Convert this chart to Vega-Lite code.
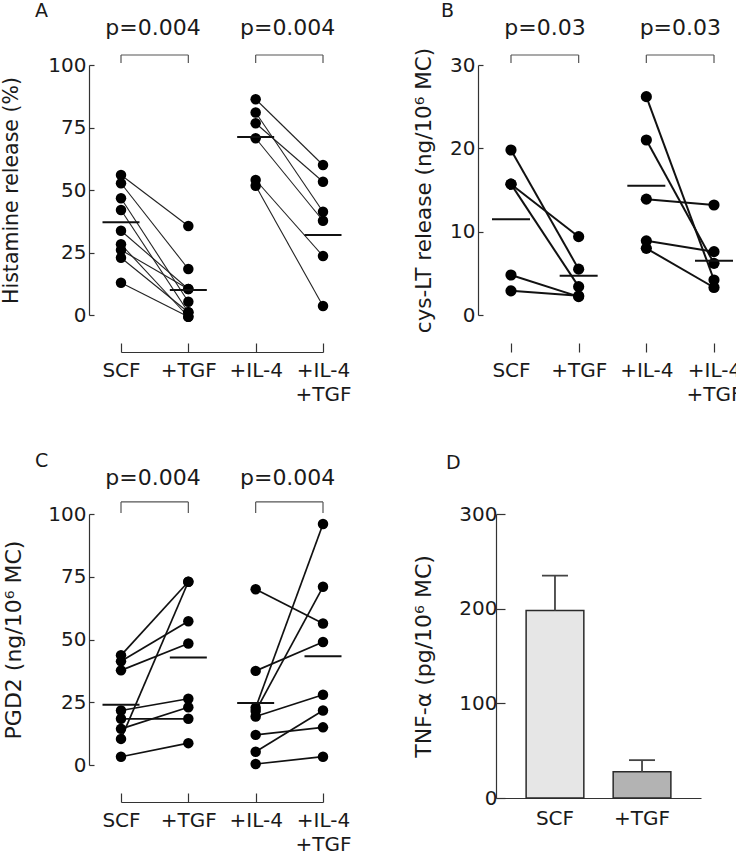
{
  "$schema": "https://vega.github.io/schema/vega-lite/v6.json",
  "padding": {"left": 1, "top": 1, "right": 5, "bottom": 5},
  "config": {
    "font": "DejaVu Sans",
    "view": {"stroke": null},
    "axis": {
      "grid": false,
      "labelFont": "DejaVu Sans",
      "labelFontSize": 20,
      "labelColor": "#1a1a1a",
      "titleFont": "DejaVu Sans",
      "titleFontSize": 21,
      "titleFontWeight": "normal",
      "titleColor": "#1a1a1a",
      "domainColor": "#333333",
      "tickColor": "#333333",
      "domainWidth": 1.2,
      "tickWidth": 1.2,
      "labelOverlap": false
    },
    "title": {"fontSize": 19, "fontWeight": "normal", "anchor": "start", "frame": "group", "color": "#1a1a1a"}
  },
  "datasets": {
    "pts": [
      {"panel": "A", "donor": "a1", "cond": "SCF", "value": 56},
      {"panel": "A", "donor": "a1", "cond": "+TGF", "value": 35.6},
      {"panel": "A", "donor": "a2", "cond": "SCF", "value": 52.7},
      {"panel": "A", "donor": "a2", "cond": "+TGF", "value": 18.4},
      {"panel": "A", "donor": "a3", "cond": "SCF", "value": 46.7},
      {"panel": "A", "donor": "a3", "cond": "+TGF", "value": 5.3},
      {"panel": "A", "donor": "a4", "cond": "SCF", "value": 42},
      {"panel": "A", "donor": "a4", "cond": "+TGF", "value": 1.1},
      {"panel": "A", "donor": "a5", "cond": "SCF", "value": 33.7},
      {"panel": "A", "donor": "a5", "cond": "+TGF", "value": 10.4},
      {"panel": "A", "donor": "a6", "cond": "SCF", "value": 28.3},
      {"panel": "A", "donor": "a6", "cond": "+TGF", "value": -0.7},
      {"panel": "A", "donor": "a7", "cond": "SCF", "value": 26},
      {"panel": "A", "donor": "a7", "cond": "+TGF", "value": 10.4},
      {"panel": "A", "donor": "a8", "cond": "SCF", "value": 22.9},
      {"panel": "A", "donor": "a8", "cond": "+TGF", "value": 1.1},
      {"panel": "A", "donor": "a9", "cond": "SCF", "value": 12.9},
      {"panel": "A", "donor": "a9", "cond": "+TGF", "value": -0.7},
      {"panel": "A", "donor": "a10", "cond": "+IL-4", "value": 86.3},
      {"panel": "A", "donor": "a10", "cond": "+IL-4 +TGF", "value": 60},
      {"panel": "A", "donor": "a11", "cond": "+IL-4", "value": 81},
      {"panel": "A", "donor": "a11", "cond": "+IL-4 +TGF", "value": 41.3},
      {"panel": "A", "donor": "a12", "cond": "+IL-4", "value": 76.7},
      {"panel": "A", "donor": "a12", "cond": "+IL-4 +TGF", "value": 53.3},
      {"panel": "A", "donor": "a13", "cond": "+IL-4", "value": 70.7},
      {"panel": "A", "donor": "a13", "cond": "+IL-4 +TGF", "value": 37.7},
      {"panel": "A", "donor": "a14", "cond": "+IL-4", "value": 54},
      {"panel": "A", "donor": "a14", "cond": "+IL-4 +TGF", "value": 23.6},
      {"panel": "A", "donor": "a15", "cond": "+IL-4", "value": 51.7},
      {"panel": "A", "donor": "a15", "cond": "+IL-4 +TGF", "value": 3.6},
      {"panel": "B", "donor": "b1", "cond": "SCF", "value": 19.8},
      {"panel": "B", "donor": "b1", "cond": "+TGF", "value": 5.5},
      {"panel": "B", "donor": "b2", "cond": "SCF", "value": 15.7},
      {"panel": "B", "donor": "b2", "cond": "+TGF", "value": 9.4},
      {"panel": "B", "donor": "b3", "cond": "SCF", "value": 15.7},
      {"panel": "B", "donor": "b3", "cond": "+TGF", "value": 3.4},
      {"panel": "B", "donor": "b4", "cond": "SCF", "value": 4.8},
      {"panel": "B", "donor": "b4", "cond": "+TGF", "value": 2.2},
      {"panel": "B", "donor": "b5", "cond": "SCF", "value": 2.9},
      {"panel": "B", "donor": "b5", "cond": "+TGF", "value": 2.3},
      {"panel": "B", "donor": "b6", "cond": "+IL-4", "value": 26.2},
      {"panel": "B", "donor": "b6", "cond": "+IL-4 +TGF", "value": 4.2},
      {"panel": "B", "donor": "b7", "cond": "+IL-4", "value": 21},
      {"panel": "B", "donor": "b7", "cond": "+IL-4 +TGF", "value": 6.2},
      {"panel": "B", "donor": "b8", "cond": "+IL-4", "value": 13.9},
      {"panel": "B", "donor": "b8", "cond": "+IL-4 +TGF", "value": 13.2},
      {"panel": "B", "donor": "b9", "cond": "+IL-4", "value": 8.9},
      {"panel": "B", "donor": "b9", "cond": "+IL-4 +TGF", "value": 7.6},
      {"panel": "B", "donor": "b10", "cond": "+IL-4", "value": 8},
      {"panel": "B", "donor": "b10", "cond": "+IL-4 +TGF", "value": 3.3},
      {"panel": "C", "donor": "c1", "cond": "SCF", "value": 43.7},
      {"panel": "C", "donor": "c1", "cond": "+TGF", "value": 73},
      {"panel": "C", "donor": "c2", "cond": "SCF", "value": 41.3},
      {"panel": "C", "donor": "c2", "cond": "+TGF", "value": 57.3},
      {"panel": "C", "donor": "c3", "cond": "SCF", "value": 37.7},
      {"panel": "C", "donor": "c3", "cond": "+TGF", "value": 48.4},
      {"panel": "C", "donor": "c4", "cond": "SCF", "value": 10.4},
      {"panel": "C", "donor": "c4", "cond": "+TGF", "value": 73},
      {"panel": "C", "donor": "c5", "cond": "SCF", "value": 21.7},
      {"panel": "C", "donor": "c5", "cond": "+TGF", "value": 26.4},
      {"panel": "C", "donor": "c6", "cond": "SCF", "value": 18.4},
      {"panel": "C", "donor": "c6", "cond": "+TGF", "value": 18.4},
      {"panel": "C", "donor": "c7", "cond": "SCF", "value": 14.4},
      {"panel": "C", "donor": "c7", "cond": "+TGF", "value": 23},
      {"panel": "C", "donor": "c8", "cond": "SCF", "value": 3.3},
      {"panel": "C", "donor": "c8", "cond": "+TGF", "value": 8.7},
      {"panel": "C", "donor": "c9", "cond": "+IL-4", "value": 70},
      {"panel": "C", "donor": "c9", "cond": "+IL-4 +TGF", "value": 56.4},
      {"panel": "C", "donor": "c10", "cond": "+IL-4", "value": 37.5},
      {"panel": "C", "donor": "c10", "cond": "+IL-4 +TGF", "value": 49},
      {"panel": "C", "donor": "c11", "cond": "+IL-4", "value": 22.8},
      {"panel": "C", "donor": "c11", "cond": "+IL-4 +TGF", "value": 96},
      {"panel": "C", "donor": "c12", "cond": "+IL-4", "value": 21.5},
      {"panel": "C", "donor": "c12", "cond": "+IL-4 +TGF", "value": 71},
      {"panel": "C", "donor": "c13", "cond": "+IL-4", "value": 19.3},
      {"panel": "C", "donor": "c13", "cond": "+IL-4 +TGF", "value": 28},
      {"panel": "C", "donor": "c14", "cond": "+IL-4", "value": 12},
      {"panel": "C", "donor": "c14", "cond": "+IL-4 +TGF", "value": 15},
      {"panel": "C", "donor": "c15", "cond": "+IL-4", "value": 5.3},
      {"panel": "C", "donor": "c15", "cond": "+IL-4 +TGF", "value": 21.7},
      {"panel": "C", "donor": "c16", "cond": "+IL-4", "value": 0.4},
      {"panel": "C", "donor": "c16", "cond": "+IL-4 +TGF", "value": 3.3}
    ],
    "means": [
      {"panel": "A", "cond": "SCF", "mean": 37.1},
      {"panel": "A", "cond": "+TGF", "mean": 10},
      {"panel": "A", "cond": "+IL-4", "mean": 71.2},
      {"panel": "A", "cond": "+IL-4 +TGF", "mean": 32},
      {"panel": "B", "cond": "SCF", "mean": 11.5},
      {"panel": "B", "cond": "+TGF", "mean": 4.7},
      {"panel": "B", "cond": "+IL-4", "mean": 15.5},
      {"panel": "B", "cond": "+IL-4 +TGF", "mean": 6.5},
      {"panel": "C", "cond": "SCF", "mean": 24},
      {"panel": "C", "cond": "+TGF", "mean": 42.8},
      {"panel": "C", "cond": "+IL-4", "mean": 24.7},
      {"panel": "C", "cond": "+IL-4 +TGF", "mean": 43.3}
    ],
    "brackets": [
      {"panel": "A", "g1": "SCF", "g2": "+TGF", "p": "p=0.004"},
      {"panel": "A", "g1": "+IL-4", "g2": "+IL-4 +TGF", "p": "p=0.004"},
      {"panel": "B", "g1": "SCF", "g2": "+TGF", "p": "p=0.03"},
      {"panel": "B", "g1": "+IL-4", "g2": "+IL-4 +TGF", "p": "p=0.03"},
      {"panel": "C", "g1": "SCF", "g2": "+TGF", "p": "p=0.004"},
      {"panel": "C", "g1": "+IL-4", "g2": "+IL-4 +TGF", "p": "p=0.004"}
    ],
    "tnf": [
      {"cond": "SCF", "mean": 198, "upper": 235},
      {"cond": "+TGF", "mean": 27.6, "upper": 40}
    ]
  },
  "concat": [
    {
      "width": 202,
      "height": 250,
      "title": {"text": "A", "dx": -86, "offset": -4},
      "layer": [
        {
          "data": {"name": "pts"},
          "transform": [{"filter": "datum.panel == 'A'"}],
          "mark": {"type": "line", "color": "#222222", "strokeWidth": 1.1},
          "encoding": {
            "x": {"field": "cond", "type": "nominal", "title": null,
              "scale": {"type": "point", "domain": ["SCF", "+TGF", "+IL-4", "+IL-4 +TGF"], "padding": 0},
              "axis": {"offset": 37, "tickSize": -9, "labelPadding": 17, "labelAngle": 0, "labelExpr": "split(datum.label, ' ')", "labelLineHeight": 24}},
            "y": {"field": "value", "type": "quantitative", "title": "Histamine release (%)",
              "scale": {"domain": [0, 100], "nice": false},
              "axis": {"values": [0, 25, 50, 75, 100], "offset": 32, "tickSize": -5, "labelPadding": 8, "titlePadding": 26, "titleFontSize": 20.5}},
            "detail": {"field": "donor"}
          }
        },
        {
          "data": {"name": "pts"},
          "transform": [{"filter": "datum.panel == 'A'"}],
          "mark": {"type": "circle", "size": 110, "color": "#000000", "opacity": 1},
          "encoding": {
            "x": {"field": "cond", "type": "nominal", "title": null},
            "y": {"field": "value", "type": "quantitative"}
          }
        },
        {
          "data": {"name": "means"},
          "transform": [{"filter": "datum.panel == 'A'"}],
          "mark": {"type": "tick", "orient": "horizontal", "size": 37, "thickness": 2, "color": "#111111", "opacity": 1},
          "encoding": {
            "x": {"field": "cond", "type": "nominal", "title": null},
            "y": {"field": "mean", "type": "quantitative"}
          }
        },
        {
          "data": {"name": "brackets"},
          "transform": [{"filter": "datum.panel == 'A'"}],
          "layer": [
            {"mark": {"type": "rule", "color": "#555555", "strokeWidth": 1.2},
             "encoding": {"x": {"field": "g1", "type": "nominal", "title": null}, "x2": {"field": "g2"}, "y": {"datum": 104}}},
            {"mark": {"type": "rule", "color": "#555555", "strokeWidth": 1.2},
             "encoding": {"x": {"field": "g1", "type": "nominal", "title": null}, "y": {"datum": 100.8}, "y2": {"datum": 104}}},
            {"mark": {"type": "rule", "color": "#555555", "strokeWidth": 1.2},
             "encoding": {"x": {"field": "g2", "type": "nominal", "title": null}, "y": {"datum": 100.8}, "y2": {"datum": 104}}},
            {"mark": {"type": "text", "dx": 32, "baseline": "alphabetic", "align": "center", "fontSize": 22, "color": "#1a1a1a"},
             "encoding": {"x": {"field": "g1", "type": "nominal", "title": null}, "y": {"datum": 112}, "text": {"field": "p"}}}
          ]
        }
      ]
    },
    {
      "width": 218,
      "height": 250,
      "title": {"text": "B", "dx": -55, "offset": -4},
      "layer": [
        {
          "data": {"name": "pts"},
          "transform": [{"filter": "datum.panel == 'B'"}],
          "mark": {"type": "line", "color": "#111111", "strokeWidth": 2},
          "encoding": {
            "x": {"field": "cond", "type": "nominal", "title": null,
              "scale": {"type": "point", "domain": ["SCF", "+TGF", "+IL-4", "+IL-4 +TGF"], "padding": 0.1108, "align": 1},
              "axis": {"offset": 37, "domain": false, "tickSize": -9, "labelPadding": 17, "labelAngle": 0, "labelExpr": "split(datum.label, ' ')", "labelLineHeight": 24}},
            "y": {"field": "value", "type": "quantitative", "title": "cys-LT release (ng/10⁶ MC)",
              "scale": {"domain": [0, 30], "nice": false},
              "axis": {"values": [0, 10, 20, 30], "offset": 18, "tickSize": -5, "labelPadding": 8, "titlePadding": 14, "titleFontSize": 21.5}},
            "detail": {"field": "donor"}
          }
        },
        {
          "data": {"name": "pts"},
          "transform": [{"filter": "datum.panel == 'B'"}],
          "mark": {"type": "circle", "size": 125, "color": "#000000", "opacity": 1},
          "encoding": {
            "x": {"field": "cond", "type": "nominal", "title": null},
            "y": {"field": "value", "type": "quantitative"}
          }
        },
        {
          "data": {"name": "means"},
          "transform": [{"filter": "datum.panel == 'B'"}],
          "mark": {"type": "tick", "orient": "horizontal", "size": 38, "thickness": 2, "color": "#111111", "opacity": 1},
          "encoding": {
            "x": {"field": "cond", "type": "nominal", "title": null},
            "y": {"field": "mean", "type": "quantitative"}
          }
        },
        {
          "mark": {"type": "rule", "color": "#333333", "strokeWidth": 1.2},
          "encoding": {"x": {"datum": "SCF", "type": "nominal", "title": null}, "x2": {"datum": "+IL-4 +TGF"}, "y": {"datum": -4.44}}
        },
        {
          "data": {"name": "brackets"},
          "transform": [{"filter": "datum.panel == 'B'"}],
          "layer": [
            {"mark": {"type": "rule", "color": "#555555", "strokeWidth": 1.2},
             "encoding": {"x": {"field": "g1", "type": "nominal", "title": null}, "x2": {"field": "g2"}, "y": {"datum": 31.2}}},
            {"mark": {"type": "rule", "color": "#555555", "strokeWidth": 1.2},
             "encoding": {"x": {"field": "g1", "type": "nominal", "title": null}, "y": {"datum": 30.24}, "y2": {"datum": 31.2}}},
            {"mark": {"type": "rule", "color": "#555555", "strokeWidth": 1.2},
             "encoding": {"x": {"field": "g2", "type": "nominal", "title": null}, "y": {"datum": 30.24}, "y2": {"datum": 31.2}}},
            {"mark": {"type": "text", "dx": 34, "baseline": "alphabetic", "align": "center", "fontSize": 22, "color": "#1a1a1a"},
             "encoding": {"x": {"field": "g1", "type": "nominal", "title": null}, "y": {"datum": 33.6}, "text": {"field": "p"}}}
          ]
        }
      ]
    },
    {
      "width": 202,
      "height": 251,
      "title": {"text": "C", "dx": -86, "offset": -4},
      "layer": [
        {
          "data": {"name": "pts"},
          "transform": [{"filter": "datum.panel == 'C'"}],
          "mark": {"type": "line", "color": "#111111", "strokeWidth": 1.7},
          "encoding": {
            "x": {"field": "cond", "type": "nominal", "title": null,
              "scale": {"type": "point", "domain": ["SCF", "+TGF", "+IL-4", "+IL-4 +TGF"], "padding": 0},
              "axis": {"offset": 37, "tickSize": -9, "labelPadding": 17, "labelAngle": 0, "labelExpr": "split(datum.label, ' ')", "labelLineHeight": 24}},
            "y": {"field": "value", "type": "quantitative", "title": "PGD2 (ng/10⁶ MC)",
              "scale": {"domain": [0, 100], "nice": false},
              "axis": {"values": [0, 25, 50, 75, 100], "offset": 32, "tickSize": -5, "labelPadding": 8, "titlePadding": 22, "titleFontSize": 22}},
            "detail": {"field": "donor"}
          }
        },
        {
          "data": {"name": "pts"},
          "transform": [{"filter": "datum.panel == 'C'"}],
          "mark": {"type": "circle", "size": 110, "color": "#000000", "opacity": 1},
          "encoding": {
            "x": {"field": "cond", "type": "nominal", "title": null},
            "y": {"field": "value", "type": "quantitative"}
          }
        },
        {
          "data": {"name": "means"},
          "transform": [{"filter": "datum.panel == 'C'"}],
          "mark": {"type": "tick", "orient": "horizontal", "size": 37, "thickness": 2, "color": "#111111", "opacity": 1},
          "encoding": {
            "x": {"field": "cond", "type": "nominal", "title": null},
            "y": {"field": "mean", "type": "quantitative"}
          }
        },
        {
          "data": {"name": "brackets"},
          "transform": [{"filter": "datum.panel == 'C'"}],
          "layer": [
            {"mark": {"type": "rule", "color": "#555555", "strokeWidth": 1.2},
             "encoding": {"x": {"field": "g1", "type": "nominal", "title": null}, "x2": {"field": "g2"}, "y": {"datum": 104.8}}},
            {"mark": {"type": "rule", "color": "#555555", "strokeWidth": 1.2},
             "encoding": {"x": {"field": "g1", "type": "nominal", "title": null}, "y": {"datum": 100.4}, "y2": {"datum": 104.8}}},
            {"mark": {"type": "rule", "color": "#555555", "strokeWidth": 1.2},
             "encoding": {"x": {"field": "g2", "type": "nominal", "title": null}, "y": {"datum": 100.4}, "y2": {"datum": 104.8}}},
            {"mark": {"type": "text", "dx": 32, "baseline": "alphabetic", "align": "center", "fontSize": 22, "color": "#1a1a1a"},
             "encoding": {"x": {"field": "g1", "type": "nominal", "title": null}, "y": {"datum": 111.6}, "text": {"field": "p"}}}
          ]
        }
      ]
    },
    {
      "width": 205,
      "height": 284,
      "title": {"text": "D", "dx": -50, "offset": 31},
      "data": {"name": "tnf"},
      "layer": [
        {
          "mark": {"type": "bar", "stroke": "#2a2a2a", "strokeWidth": 1.5},
          "encoding": {
            "x": {"field": "cond", "type": "nominal", "title": null, "sort": null,
              "scale": {"domain": ["SCF", "+TGF"], "paddingInner": 0.337, "paddingOuter": 0.346},
              "axis": {"ticks": false, "labelPadding": 10, "labelAngle": 0}},
            "y": {"field": "mean", "type": "quantitative", "title": "TNF-α (pg/10⁶ MC)",
              "scale": {"domain": [0, 300], "nice": false},
              "axis": {"values": [0, 100, 200, 300], "tickSize": -9, "labelPadding": 8, "titlePadding": 23, "titleFontSize": 22}},
            "fill": {"field": "cond", "type": "nominal", "legend": null,
              "scale": {"domain": ["SCF", "+TGF"], "range": ["#e6e6e6", "#b3b3b3"]}}
          }
        },
        {
          "mark": {"type": "rule", "color": "#444444", "strokeWidth": 1.8},
          "encoding": {
            "x": {"field": "cond", "type": "nominal"},
            "y": {"field": "mean", "type": "quantitative"},
            "y2": {"field": "upper"}
          }
        },
        {
          "mark": {"type": "tick", "orient": "horizontal", "size": 26, "thickness": 1.8, "color": "#444444", "opacity": 1},
          "encoding": {
            "x": {"field": "cond", "type": "nominal"},
            "y": {"field": "upper", "type": "quantitative"}
          }
        }
      ]
    }
  ],
  "columns": 2,
  "bounds": "flush",
  "spacing": {"column": 173, "row": 199}
}
